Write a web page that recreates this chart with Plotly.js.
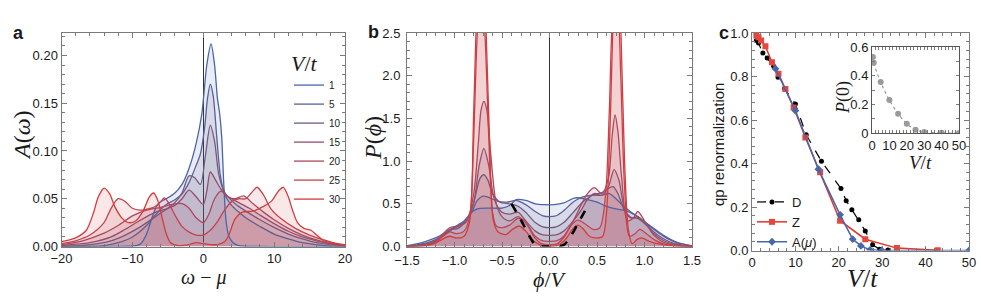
<!DOCTYPE html>
<html><head><meta charset="utf-8">
<script src="https://cdn.plot.ly/plotly-3.0.1.min.js"></script>
<style>html,body{margin:0;padding:0;background:#fff}#chart{width:981px;height:299px}</style>
</head><body><div id="chart"></div>
<script>
// ---------- data ----------
const vLabels = ['1','5','10','15','20','25','30'];

// panel a : A(omega) vs omega - mu
const aX1 = [-20,-12,-10,-9,-8.5,-8,-7.5,-7,-6.5,-6,-5,-4,-3,-2,-1,-0.2,0.5,1.1,1.6,2.0,2.3,2.6,2.9,3.2,3.6,4.2,5,8,20];
const aY1 = [0,0,0.0005,0.002,0.006,0.013,0.024,0.035,0.043,0.047,0.051,0.056,0.065,0.082,0.108,0.139,0.19,0.212,0.19,0.155,0.14,0.115,0.065,0.028,0.011,0.004,0.001,0,0];
const aX5 = [-20,-14,-12,-10,-8,-7,-6,-5,-4,-3,-2,-1,-0.4,0.2,0.6,1.0,1.4,1.9,2.4,3,4,5,6,8,10,12,14,17,20];
const aY5 = [0,0.001,0.004,0.01,0.022,0.031,0.039,0.045,0.049,0.055,0.067,0.085,0.097,0.125,0.155,0.17,0.158,0.115,0.075,0.055,0.043,0.036,0.03,0.021,0.013,0.008,0.004,0.001,0];
const aX10 = [-20,-16,-13,-11,-9,-7,-5,-4,-3,-2,-1.2,-0.4,0.3,1.0,1.6,2.2,3,4,5,6,8,10,12,14,16,18,20];
const aY10 = [0,0.002,0.006,0.012,0.02,0.03,0.04,0.046,0.056,0.074,0.072,0.065,0.095,0.127,0.11,0.075,0.057,0.048,0.042,0.037,0.028,0.02,0.013,0.008,0.004,0.002,0.001];
const aX15 = [-20,-16,-13,-11,-9,-7,-5,-4,-3,-2,-1,0,0.5,1,1.7,2.5,3.5,5,6.5,8,10,12,14,16,18,20];
const aY15 = [0.001,0.004,0.01,0.018,0.027,0.035,0.04,0.043,0.05,0.059,0.052,0.044,0.058,0.078,0.07,0.06,0.052,0.046,0.04,0.033,0.024,0.016,0.01,0.006,0.003,0.001];
const aX20 = [-20,-17,-14,-12,-10,-8,-6,-4.5,-3,-2,-1,0,0.8,1.6,2.5,3.5,4.5,5.7,7,8.5,10,12,14,16,18,20];
const aY20 = [0.002,0.006,0.014,0.022,0.032,0.038,0.041,0.044,0.045,0.04,0.03,0.025,0.034,0.05,0.058,0.052,0.05,0.053,0.045,0.036,0.028,0.019,0.012,0.007,0.003,0.001];
const aX25 = [-20,-18,-16,-14,-13,-12,-11,-10,-9,-8,-7,-6,-5.5,-5,-4,-3,-2,-1,0,1,2,3,4,5,6,7,7.6,8.5,9.5,11,13,15,17,19,20];
const aY25 = [0.003,0.006,0.012,0.025,0.04,0.05,0.047,0.04,0.038,0.039,0.041,0.047,0.051,0.047,0.033,0.021,0.015,0.012,0.012,0.017,0.026,0.038,0.047,0.05,0.05,0.058,0.062,0.054,0.04,0.029,0.019,0.012,0.007,0.003,0.002];
const aX30 = [-20,-18,-16.5,-15.5,-14.8,-14,-13.2,-12.5,-11.5,-10.5,-9.5,-8.5,-7.6,-7,-6.4,-5.8,-5.2,-4.6,-3.5,-2,-1,0,1,2,3,3.6,4.5,5.5,7,8.5,9.7,10.6,11.3,12,12.6,13.3,14.2,15.2,16,17,18.5,20];
const aY30 = [0.005,0.009,0.017,0.035,0.052,0.061,0.055,0.042,0.03,0.025,0.027,0.037,0.052,0.056,0.048,0.03,0.013,0.004,0.001,0.002,0.004,0.003,0.002,0.002,0.005,0.012,0.029,0.036,0.037,0.042,0.048,0.058,0.062,0.052,0.038,0.025,0.019,0.017,0.012,0.006,0.003,0.001];

// panel b : P(phi) vs phi/V
const bX1 = [-1.5,-1.4,-1.3,-1.2,-1.1,-1.0,-0.9,-0.82,-0.76,-0.65,-0.5,-0.42,-0.35,-0.25,-0.15,-0.05,0.05,0.15,0.27,0.4,0.5,0.6,0.7,0.8,0.9,1.0,1.1,1.2,1.3,1.4,1.5];
const bY1 = [0.01,0.03,0.06,0.1,0.16,0.23,0.3,0.4,0.44,0.45,0.45,0.48,0.55,0.54,0.5,0.49,0.49,0.51,0.57,0.55,0.52,0.47,0.44,0.42,0.37,0.29,0.21,0.13,0.07,0.03,0.01];
const bX5 = [-1.5,-1.3,-1.2,-1.1,-1.0,-0.9,-0.82,-0.76,-0.7,-0.63,-0.55,-0.45,-0.35,-0.25,-0.15,-0.07,0,0.07,0.15,0.25,0.35,0.45,0.55,0.63,0.7,0.78,0.86,0.95,1.05,1.15,1.25,1.35,1.5];
const bY5 = [0.005,0.04,0.08,0.14,0.22,0.28,0.4,0.54,0.59,0.57,0.53,0.52,0.54,0.49,0.41,0.36,0.35,0.36,0.42,0.52,0.58,0.6,0.6,0.62,0.56,0.47,0.4,0.33,0.24,0.16,0.09,0.04,0.005];
const bX10 = [-1.5,-1.3,-1.2,-1.1,-1.04,-0.95,-0.86,-0.79,-0.73,-0.69,-0.65,-0.6,-0.52,-0.42,-0.33,-0.25,-0.15,-0.07,0,0.07,0.15,0.25,0.35,0.45,0.55,0.62,0.67,0.72,0.79,0.86,0.93,1.0,1.1,1.2,1.3,1.5];
const bY10 = [0.003,0.03,0.07,0.15,0.2,0.24,0.32,0.55,0.8,0.84,0.78,0.62,0.52,0.5,0.47,0.4,0.28,0.23,0.22,0.23,0.28,0.4,0.52,0.6,0.63,0.68,0.7,0.62,0.42,0.34,0.33,0.27,0.17,0.09,0.04,0.003];
const bX15 = [-1.5,-1.3,-1.2,-1.1,-1.05,-0.97,-0.88,-0.8,-0.74,-0.69,-0.64,-0.58,-0.5,-0.42,-0.33,-0.25,-0.15,-0.07,0,0.07,0.15,0.25,0.33,0.4,0.47,0.55,0.62,0.68,0.73,0.8,0.87,0.93,1.0,1.1,1.2,1.3,1.5];
const bY15 = [0.002,0.025,0.06,0.15,0.2,0.21,0.3,0.5,0.95,1.15,0.95,0.55,0.4,0.38,0.4,0.3,0.18,0.135,0.13,0.135,0.18,0.3,0.42,0.55,0.62,0.6,0.7,0.9,0.78,0.4,0.33,0.35,0.28,0.15,0.07,0.03,0.002];
const bX20 = [-1.5,-1.3,-1.2,-1.12,-1.05,-0.97,-0.88,-0.8,-0.75,-0.72,-0.69,-0.66,-0.62,-0.56,-0.5,-0.42,-0.33,-0.25,-0.15,-0.07,0,0.07,0.15,0.25,0.33,0.4,0.47,0.55,0.62,0.66,0.69,0.72,0.76,0.82,0.88,0.93,1.0,1.1,1.2,1.3,1.5];
const bY20 = [0.002,0.02,0.06,0.15,0.22,0.24,0.28,0.6,1.2,1.6,1.7,1.6,1.1,0.5,0.35,0.3,0.35,0.28,0.12,0.065,0.06,0.065,0.12,0.3,0.48,0.62,0.69,0.62,0.8,1.3,1.54,1.35,0.8,0.3,0.33,0.41,0.3,0.13,0.05,0.02,0.002];
const bX25 = [-1.5,-1.3,-1.2,-1.12,-1.05,-0.98,-0.9,-0.84,-0.8,-0.76,-0.72,-0.68,-0.64,-0.6,-0.56,-0.5,-0.42,-0.33,-0.25,-0.16,-0.08,0,0.08,0.16,0.23,0.3,0.38,0.46,0.53,0.59,0.63,0.67,0.71,0.75,0.79,0.84,0.9,0.95,1.02,1.1,1.2,1.3,1.5];
const bY25 = [0.002,0.015,0.05,0.12,0.17,0.15,0.18,0.35,1.2,2.5,3.1,2.5,1.3,0.4,0.24,0.22,0.25,0.33,0.28,0.11,0.03,0.02,0.03,0.12,0.25,0.31,0.26,0.2,0.22,0.6,1.6,2.8,3.0,2.0,0.7,0.12,0.15,0.2,0.15,0.08,0.03,0.01,0.002];
const bX30 = [-1.5,-1.3,-1.2,-1.12,-1.05,-0.98,-0.9,-0.84,-0.8,-0.77,-0.72,-0.67,-0.63,-0.59,-0.54,-0.46,-0.39,-0.32,-0.25,-0.18,-0.1,0,0.1,0.18,0.24,0.3,0.36,0.42,0.49,0.56,0.6,0.64,0.68,0.715,0.75,0.79,0.83,0.87,0.92,0.97,1.05,1.15,1.3,1.5];
const bY30 = [0.001,0.01,0.04,0.09,0.12,0.1,0.12,0.3,1.5,2.6,3.6,2.6,1.2,0.3,0.17,0.14,0.2,0.24,0.18,0.08,0.02,0,0.02,0.1,0.2,0.25,0.2,0.12,0.1,0.12,0.4,1.5,3.0,3.6,2.6,1.0,0.2,0.03,0.08,0.1,0.06,0.03,0.01,0.001];
const bDashX = [-0.4,-0.3,-0.2,-0.15,-0.1,-0.05,0,0.05,0.1,0.15,0.2,0.3,0.4];
const bDashY = [0.5,0.31,0.1,0.02,0.003,0,0,0,0.003,0.02,0.08,0.27,0.47];

// panel c : qp renormalization vs V/t
const cDx = [1,1.5,2.5,3.5,5,6,7.5,10,12.5,16,20.5,21.7,23,24.6,26.1,27.8,29.4,31.3];
const cDy = [0.966,0.954,0.908,0.885,0.847,0.797,0.745,0.673,0.532,0.41,0.285,0.229,0.187,0.141,0.09,0.026,0.006,0.002];
const cZx = [1,1.5,2.1,3.1,4.6,6.1,7.7,9.6,12.3,15.7,20.3,26.1,33.4,42.8];
const cZy = [0.988,0.98,0.966,0.939,0.865,0.813,0.742,0.658,0.52,0.36,0.137,0.052,0.011,0.001];
const cAx = [5.4,10,15.3,20.3,23.2,25.1,27.2,29.9,50];
const cAy = [0.836,0.643,0.374,0.164,0.052,0.021,0.003,0,0];

// inset : P(0) vs V/t
const insetV = [0.5,1,5,10,15,20,25,30,40,50];
const insetP = [0.53,0.49,0.355,0.23,0.135,0.065,0.023,0.007,0.001,0.0];

// ---------- styles ----------
const colors = [[74,101,171],[93,95,149],[118,89,127],[143,81,112],[170,74,96],[196,67,79],[212,59,59]];
const rgb = (c,a) => a===undefined ? `rgb(${c[0]},${c[1]},${c[2]})` : `rgba(${c[0]},${c[1]},${c[2]},${a})`;

const aX = [aX1,aX5,aX10,aX15,aX20,aX25,aX30];
const aY = [aY1,aY5,aY10,aY15,aY20,aY25,aY30];
const bX = [bX1,bX5,bX10,bX15,bX20,bX25,bX30];
const bY = [bY1,bY5,bY10,bY15,bY20,bY25,bY30];

const traces = [];
const panels = [['x','y',aX,aY],['x2','y2',bX,bY]];
panels.forEach(([xa,ya,X,Y]) => {
  for (let i=0;i<7;i++){
    traces.push({x:X[i], y:Y[i], xaxis:xa, yaxis:ya, type:'scatter', mode:'lines', showlegend:false,
      line:{color:'rgba(0,0,0,0)', width:0, shape:'spline', smoothing:0.8}, fill:'tozeroy', fillcolor:rgb(colors[i],0.12)});
  }
  for (let i=0;i<7;i++){
    traces.push({x:X[i], y:Y[i], xaxis:xa, yaxis:ya, type:'scatter', mode:'lines', name:vLabels[i],
      line:{color:rgb(colors[i]), width:1.3, shape:'spline', smoothing:0.8},
      legend:'legend', showlegend: xa==='x'});
  }
});
traces.push({x:bDashX, y:bDashY, xaxis:'x2', yaxis:'y2', type:'scatter', mode:'lines', showlegend:false,
  line:{color:'#000', width:2.6, dash:'dash', shape:'spline'}});

traces.push({x:cDx, y:cDy, xaxis:'x3', yaxis:'y3', type:'scatter', mode:'lines+markers', name:'D', legend:'legend2',
  line:{color:'#000', width:1.2, dash:'dash'}, marker:{symbol:'circle', size:5, color:'#000'}});
traces.push({x:cZx, y:cZy, xaxis:'x3', yaxis:'y3', type:'scatter', mode:'lines+markers', name:'Z', legend:'legend2',
  line:{color:'rgb(226,52,42)', width:1.5}, marker:{symbol:'square', size:6, color:'rgb(232,70,60)'}});
traces.push({x:cAx, y:cAy, xaxis:'x3', yaxis:'y3', type:'scatter', mode:'lines+markers', name:'A(<i>μ</i>)', legend:'legend2',
  line:{color:'rgb(72,102,170)', width:1.5}, marker:{symbol:'diamond', size:6, color:'rgb(72,102,170)'}});

traces.push({x:insetV, y:insetP, xaxis:'x4', yaxis:'y4', type:'scatter', mode:'lines+markers', showlegend:false,
  line:{color:'#9a9a9a', width:1.2, dash:'dot', shape:'spline'}, marker:{symbol:'circle', size:6, color:'#9a9a9a'}});

const W=981, H=299;
const fx = px => px/W, fy = py => 1-py/H;
function ax(o){
  return Object.assign({showline:true, linecolor:'#7a7a7a', linewidth:1, mirror:'allticks', ticks:'inside', ticklen:5,
    tickcolor:'#7a7a7a', tickwidth:1, showgrid:false, zeroline:false, fixedrange:true,
    tickfont:{family:'Liberation Sans, Arial, sans-serif', size:13, color:'#1a1a1a'}}, o,
    {minor: Object.assign({ticks:'inside', ticklen:3, tickcolor:'#7a7a7a', showgrid:false}, o.minor||{})});
}

const layout = {
  width:W, height:H, margin:{l:0,r:0,t:0,b:0}, paper_bgcolor:'#fff', plot_bgcolor:'rgba(0,0,0,0)',
  font:{family:'Liberation Sans, Arial, sans-serif', size:13, color:'#1a1a1a'},
  xaxis: ax({domain:[fx(61.5),fx(345)], range:[-20,20], dtick:10, tick0:0, minor:{dtick:2}, anchor:'y',
    zeroline:true, zerolinecolor:'#333', zerolinewidth:1}),
  yaxis: ax({domain:[fy(246.5),fy(33)], range:[0,0.2235], dtick:0.05, tickformat:'.2f', minor:{dtick:0.01}, anchor:'x'}),
  xaxis2: ax({domain:[fx(407),fx(692)], range:[-1.5,1.5], dtick:0.5, tickformat:'.1f', minor:{dtick:0.1}, anchor:'y2',
    zeroline:true, zerolinecolor:'#333', zerolinewidth:1, ticklabelstandoff:2}),
  yaxis2: ax({domain:[fy(246.5),fy(33)], range:[0,2.5], dtick:0.5, tickformat:'.1f', minor:{dtick:0.1}, anchor:'x2', ticklabelstandoff:3}),
  xaxis3: ax({domain:[fx(752),fx(969)], range:[0,50], dtick:10, minor:{dtick:2}, anchor:'y3'}),
  yaxis3: ax({domain:[fy(250.5),fy(33)], range:[0,1.0], dtick:0.2, tickformat:'.1f', minor:{dtick:0.04}, anchor:'x3'}),
  xaxis4: ax({domain:[fx(872),fx(959)], range:[0,50], dtick:10, minor:{dtick:2}, anchor:'y4', ticklen:3, linecolor:'#555'}),
  yaxis4: ax({domain:[fy(133),fy(47)], range:[0,0.6], tickvals:[0,0.2,0.4,0.6], ticktext:['0','0.2','0.4','0.6'], minor:{dtick:0.1}, anchor:'x4', ticklen:3, linecolor:'#555'}),
  legend:{x:fx(289), y:fy(42), xanchor:'left', yanchor:'top', bgcolor:'rgba(0,0,0,0)', borderwidth:0,
    title:{text:'<i>V</i>/<i>t</i>', font:{family:'Liberation Serif, serif', size:22, color:'#1a1a1a'}},
    font:{size:10, color:'#1a1a1a'}, itemwidth:30, tracegroupgap:0},
  legend2:{x:fx(752), y:fy(187), xanchor:'left', yanchor:'top', bgcolor:'rgba(0,0,0,0)', borderwidth:0,
    font:{size:13, color:'#1a1a1a'}, itemwidth:30, traceorder:'normal'},
  annotations:[
    {text:'<b>a</b>', x:fx(18), y:fy(33), xref:'paper', yref:'paper', showarrow:false, xanchor:'center', yanchor:'middle', font:{size:18, family:'Liberation Sans, Arial'}},
    {text:'<b>b</b>', x:fx(373), y:fy(32), xref:'paper', yref:'paper', showarrow:false, xanchor:'center', yanchor:'middle', font:{size:18, family:'Liberation Sans, Arial'}},
    {text:'<b>c</b>', x:fx(724), y:fy(33), xref:'paper', yref:'paper', showarrow:false, xanchor:'center', yanchor:'middle', font:{size:18, family:'Liberation Sans, Arial'}},
    {text:'<i>A</i>(<i>ω</i>)', x:fx(22), y:fy(135), xref:'paper', yref:'paper', showarrow:false, textangle:-90, xanchor:'center', yanchor:'middle', font:{size:24, family:'Liberation Serif, serif'}},
    {text:'<i>ω</i> − <i>μ</i>', x:fx(203), y:fy(277), xref:'paper', yref:'paper', showarrow:false, xanchor:'center', yanchor:'middle', font:{size:20, family:'Liberation Serif, serif'}},
    {text:'<i>P</i>(<i>ϕ</i>)', x:fx(373), y:fy(138), xref:'paper', yref:'paper', showarrow:false, textangle:-90, xanchor:'center', yanchor:'middle', font:{size:24, family:'Liberation Serif, serif'}},
    {text:'<i>ϕ</i>/<i>V</i>', x:fx(550), y:fy(279), xref:'paper', yref:'paper', showarrow:false, xanchor:'center', yanchor:'middle', font:{size:22, family:'Liberation Serif, serif'}},
    {text:'qp renormalization', x:fx(718), y:fy(145), xref:'paper', yref:'paper', showarrow:false, textangle:-90, xanchor:'center', yanchor:'middle', font:{size:15, family:'Liberation Sans, Arial'}},
    {text:'<i>V</i>/<i>t</i>', x:fx(862), y:fy(278), xref:'paper', yref:'paper', showarrow:false, xanchor:'center', yanchor:'middle', font:{size:26, family:'Liberation Serif, serif'}},
    {text:'<i>P</i>(0)', x:fx(843), y:fy(98), xref:'paper', yref:'paper', showarrow:false, textangle:-90, xanchor:'center', yanchor:'middle', font:{size:18, family:'Liberation Serif, serif'}},
    {text:'<i>V</i>/<i>t</i>', x:fx(920), y:fy(162), xref:'paper', yref:'paper', showarrow:false, xanchor:'center', yanchor:'middle', font:{size:19, family:'Liberation Serif, serif'}}
  ]
};

Plotly.newPlot('chart', traces, layout, {staticPlot:true, displayModeBar:false});
</script>
</body></html>
